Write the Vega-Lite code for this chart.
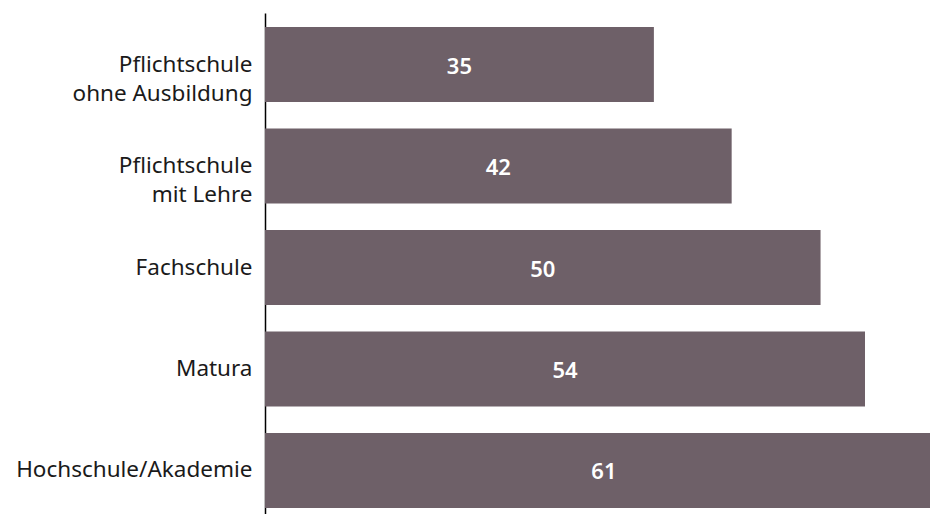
{
  "$schema": "https://vega.github.io/schema/vega-lite/v6.json",
  "autosize": "none",
  "padding": {"left": 265, "top": 13, "right": 0, "bottom": 0},
  "width": 665,
  "height": 509,
  "background": "white",
  "config": {"view": {"stroke": null}, "font": "Noto Sans"},
  "data": {"values": [
    {"cat": "Pflichtschule\nohne Ausbildung", "v": 35},
    {"cat": "Pflichtschule\nmit Lehre", "v": 42},
    {"cat": "Fachschule", "v": 50},
    {"cat": "Matura", "v": 54},
    {"cat": "Hochschule/Akademie", "v": 61}
  ]},
  "transform": [{"calculate": "datum.v / 2", "as": "mid"}],
  "encoding": {
    "y": {"field": "cat", "type": "nominal", "sort": null,
      "scale": {"paddingInner": 0.26, "paddingOuter": 0.138},
      "axis": {"title": null, "ticks": false, "domainColor": "#000000", "domainWidth": 1.5,
        "labelFontSize": 22.5, "labelColor": "#1a1a1a", "labelPadding": 13, "labelLineHeight": 29,
        "labelExpr": "split(datum.label, '\\n')", "labelLimit": 400}}
  },
  "layer": [
    {"mark": {"type": "bar", "color": "#6E6068", "clip": true},
     "encoding": {"x": {"field": "v", "type": "quantitative", "scale": {"domain": [0, 59.85], "nice": false, "zero": true}, "axis": null}}},
    {"mark": {"type": "text", "color": "white", "fontWeight": 600, "fontSize": 22, "baseline": "middle", "dy": 2},
     "encoding": {"x": {"field": "mid", "type": "quantitative"}, "text": {"field": "v", "type": "quantitative"}}}
  ]
}
